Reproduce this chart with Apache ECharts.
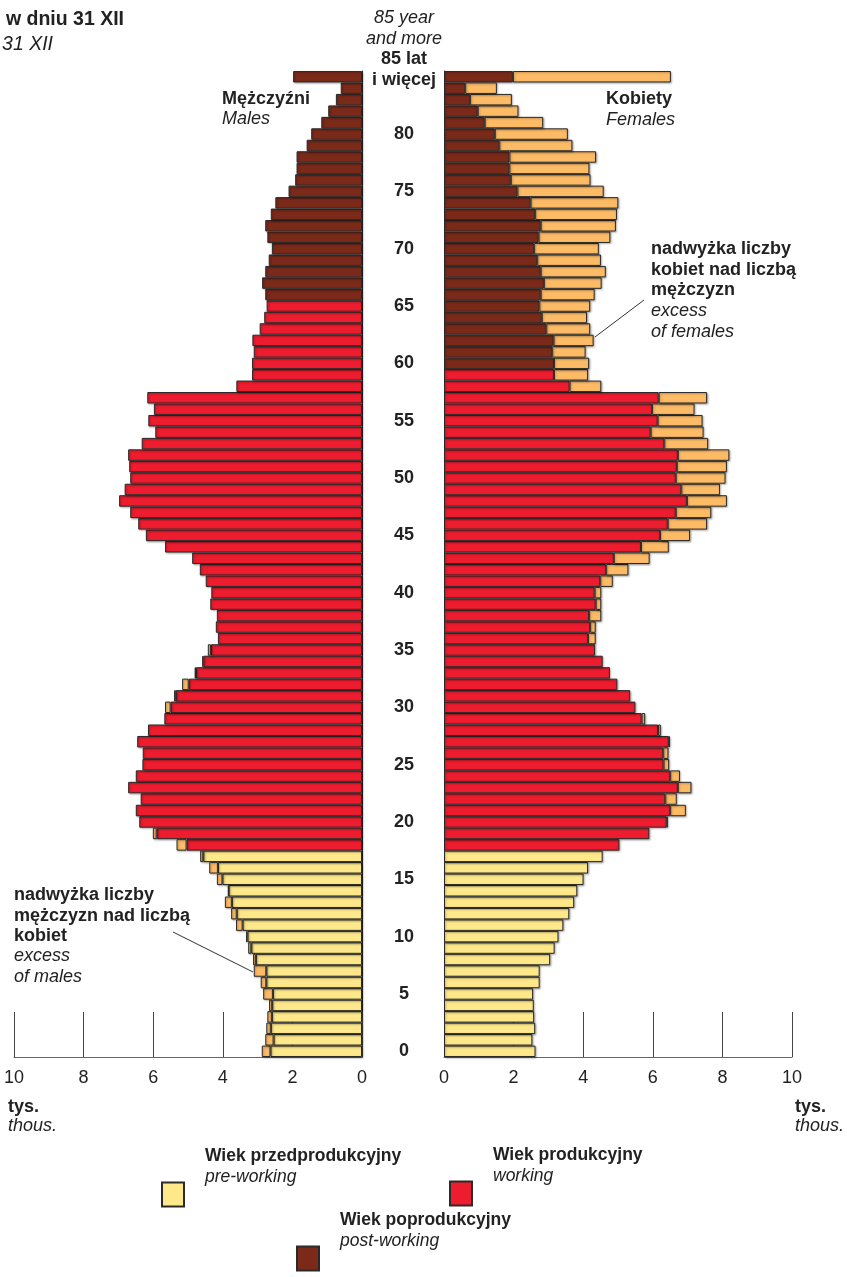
<!DOCTYPE html>
<html>
<head>
<meta charset="utf-8">
<script src="https://cdn.jsdelivr.net/npm/echarts@6/dist/echarts.min.js"></script>
<style>
  html, body { margin: 0; padding: 0; background: #fff; }
  #chart { width: 847px; height: 1277px; }
</style>
</head>
<body>
<div id="chart"></div>
<script>
// ages 0..84 and 85+
var ages = [];
for (var a = 0; a <= 84; a++) ages.push(String(a));
ages.push('85+');

// thousands, index = age
var males = [
  2.88, 2.78, 2.75, 2.72, 2.67, 2.84, 2.91, 3.11, 3.13, 3.27,
  3.33, 3.62, 3.76, 3.94, 3.85, 4.17, 4.39, 4.65, 5.33, 6.01,
  6.40, 6.50, 6.36, 6.72, 6.50, 6.31, 6.30, 6.46, 6.15, 5.68,
  5.66, 5.40, 5.17, 4.81, 4.59, 4.43, 4.14, 4.20, 4.17, 4.36,
  4.33, 4.49, 4.66, 4.88, 5.66, 6.21, 6.43, 6.66, 6.98, 6.82,
  6.66, 6.69, 6.72, 6.33, 5.94, 6.14, 5.98, 6.17, 3.61, 3.16,
  3.16, 3.11, 3.15, 2.94, 2.81, 2.74, 2.78, 2.87, 2.78, 2.68,
  2.59, 2.72, 2.78, 2.62, 2.49, 2.11, 1.92, 1.88, 1.88, 1.59,
  1.46, 1.17, 0.97, 0.75, 0.61, 1.98
];
var females = [
  2.63, 2.54, 2.62, 2.59, 2.58, 2.56, 2.75, 2.75, 3.05, 3.18,
  3.29, 3.43, 3.60, 3.74, 3.83, 4.01, 4.14, 4.56, 5.04, 5.90,
  6.43, 6.95, 6.69, 7.11, 6.78, 6.47, 6.45, 6.49, 6.23, 5.78,
  5.50, 5.35, 4.98, 4.77, 4.56, 4.34, 4.36, 4.36, 4.52, 4.52,
  4.52, 4.85, 5.30, 5.91, 6.46, 7.07, 7.56, 7.68, 8.13, 7.93,
  8.09, 8.13, 8.20, 7.59, 7.46, 7.43, 7.20, 7.56, 4.52, 4.14,
  4.17, 4.07, 4.30, 4.20, 4.11, 4.20, 4.33, 4.53, 4.65, 4.51,
  4.45, 4.78, 4.94, 4.97, 5.01, 4.59, 4.21, 4.18, 4.37, 3.69,
  3.56, 2.85, 2.14, 1.95, 1.52, 6.52
];
var xTicks = [0, 2, 4, 6, 8, 10];

// last age of each group as drawn
var preWorkingLast = 17;
var maleWorkingLast = 65;
var femaleWorkingLast = 59;

var groupNames = ['Wiek przedprodukcyjny', 'Wiek produkcyjny', 'Wiek poprodukcyjny'];
var groupSub = ['pre-working', 'working', 'post-working'];
var colors = ['#fee88a', '#ed1c2e', '#7b2a1a'];
var excessColor = '#fdbb66';
var font = 'Liberation Sans, Arial, sans-serif';

function groupOf(i, workingLast) {
    if (i <= preWorkingLast) return 0;
    if (i <= workingLast) return 1;
    return 2;
}

function mainPart(g, workingLast) {
    return ages.map(function(_, i) {
        return groupOf(i, workingLast) === g ? Math.min(males[i], females[i]) : '-';
    });
}

var excessMales = ages.map(function(_, i) {
    return males[i] > females[i] ? +(males[i] - females[i]).toFixed(2) : '-';
});
var excessFemales = ages.map(function(_, i) {
    return females[i] > males[i] ? +(females[i] - males[i]).toFixed(2) : '-';
});

var barStyle = {
    borderColor: '#2a2a2a',
    borderWidth: 1,
    shadowColor: 'rgba(0,0,0,0.3)',
    shadowBlur: 2,
    shadowOffsetX: 1,
    shadowOffsetY: 1
};

function bar(name, side, data, color) {
    return {
        name: name,
        type: 'bar',
        xAxisIndex: side,
        yAxisIndex: side,
        stack: side === 0 ? 'm' : 'f',
        barCategoryGap: '0%',
        data: data,
        itemStyle: Object.assign({ color: color }, barStyle),
        emphasis: { disabled: true }
    };
}

var series = [];
[0, 1].forEach(function(side) {
    var wl = side === 0 ? maleWorkingLast : femaleWorkingLast;
    for (var g = 0; g < 3; g++) {
        series.push(bar(groupNames[g], side, mainPart(g, wl), colors[g]));
    }
    series.push(bar('nadwyżka', side, side === 0 ? excessMales : excessFemales, excessColor));
});

function xAxis(side) {
    return {
        type: 'value',
        gridIndex: side,
        min: xTicks[0],
        max: xTicks[xTicks.length - 1],
        interval: xTicks[1] - xTicks[0],
        inverse: side === 0,
        splitLine: { show: false },
        axisLine: { show: true, lineStyle: { color: '#666', width: 1 } },
        axisTick: { show: true, inside: true, length: 45, lineStyle: { color: '#444', width: 1 } },
        axisLabel: { color: '#222', fontSize: 18, fontFamily: font, margin: 12 }
    };
}

function yAxis(side) {
    return {
        type: 'category',
        gridIndex: side,
        data: ages,
        position: side === 0 ? 'right' : 'left',
        axisLine: { show: true, lineStyle: { color: '#2a2a2a', width: 1 } },
        axisTick: { show: false },
        axisLabel: side === 0 ? {
            show: true,
            interval: function(i) { return i % 5 === 0 && i < 85; },
            align: 'center',
            margin: 42,
            color: '#222',
            fontSize: 18,
            fontWeight: 'bold',
            fontFamily: font
        } : { show: false }
    };
}

// legend: icon at (left, iconTop), two text lines above the icon centre
function legend(i, left, iconTop) {
    return {
        data: [{ name: groupNames[i], icon: 'rect' }],
        left: left,
        top: iconTop + 12 - 49,
        padding: 0,
        orient: 'vertical',
        itemWidth: 22,
        itemHeight: 24,
        selectedMode: false,
        formatter: function(n) { return '{b|' + n + '}\n{i|' + groupSub[i] + '}'; },
        textStyle: {
            padding: [0, 0, 56, 16],
            rich: {
                b: { fontSize: 17.5, fontWeight: 'bold', color: '#222', fontFamily: font, lineHeight: 21 },
                i: { fontSize: 17.5, fontStyle: 'italic', color: '#222', fontFamily: font, lineHeight: 21 }
            }
        }
    };
}

function txt(text, x, y, opts) {
    opts = opts || {};
    return {
        type: 'text',
        x: x,
        y: y,
        silent: true,
        style: {
            text: text,
            fill: '#222',
            font: (opts.italic ? 'italic ' : '') + (opts.bold ? 'bold ' : '') + (opts.size || 18) + 'px ' + font,
            textAlign: opts.align || 'left',
            textVerticalAlign: 'top',
            lineHeight: opts.lh || 20.6
        }
    };
}

var chart = echarts.init(document.getElementById('chart'), null, { renderer: 'canvas' });
chart.setOption({
    animation: false,
    backgroundColor: '#fff',
    grid: [
        { left: 14, top: 71, width: 348, height: 986 },
        { left: 444, top: 71, width: 348, height: 986 }
    ],
    xAxis: [xAxis(0), xAxis(1)],
    yAxis: [yAxis(0), yAxis(1)],
    legend: [legend(0, 161, 1184), legend(1, 449, 1183), legend(2, 296, 1248)],
    series: series,
    graphic: [
        txt('w dniu 31 XII', 124, 9, { bold: true, align: 'right', size: 19.5 }),
        txt('31 XII', 53, 34, { italic: true, align: 'right', size: 19.5 }),
        txt('85 year\nand more', 404, 8, { italic: true, align: 'center' }),
        txt('85 lat\ni więcej', 404, 49, { bold: true, align: 'center' }),
        txt('Mężczyźni', 222, 89, { bold: true }),
        txt('Males', 222, 109, { italic: true }),
        txt('Kobiety', 606, 89, { bold: true }),
        txt('Females', 606, 110, { italic: true }),
        txt('nadwyżka liczby\nkobiet nad liczbą\nmężczyzn', 651, 239, { bold: true }),
        txt('excess\nof females', 651, 301, { italic: true }),
        txt('nadwyżka liczby\nmężczyzn nad liczbą\nkobiet', 14, 885, { bold: true }),
        txt('excess\nof males', 14, 946, { italic: true }),
        txt('tys.', 8, 1097, { bold: true }),
        txt('thous.', 8, 1116, { italic: true }),
        txt('tys.', 795, 1097, { bold: true }),
        txt('thous.', 795, 1116, { italic: true }),
        { type: 'line', silent: true, shape: { x1: 595, y1: 337, x2: 644, y2: 300 }, style: { stroke: '#333', lineWidth: 1 } },
        { type: 'line', silent: true, shape: { x1: 173, y1: 932, x2: 253, y2: 972 }, style: { stroke: '#333', lineWidth: 1 } }
    ]
});
</script>
</body>
</html>
